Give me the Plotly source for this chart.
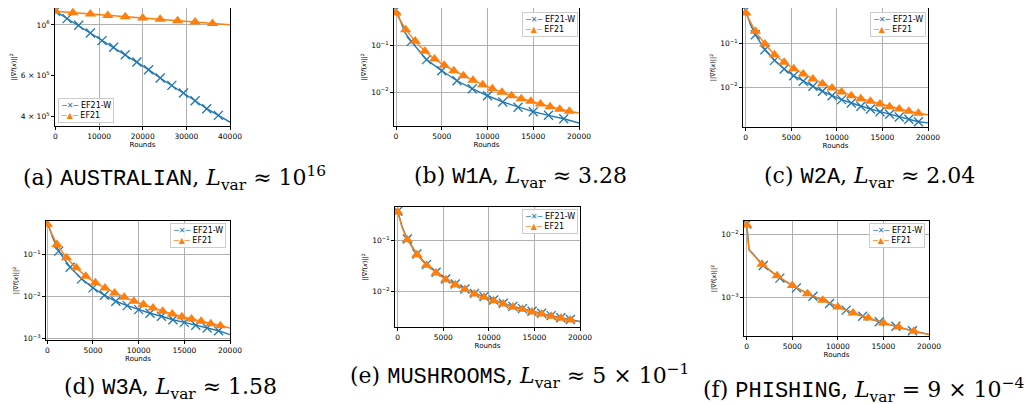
import plotly.graph_objects as go

BLUE = "#1f77b4"
ORANGE = "#ff7f0e"
W, H = 1034, 404

# ---------------- data ----------------
# (a) AUSTRALIAN
a_w_x = [0, 2667, 5333, 8000, 10667, 13333, 16000, 18667, 21333, 24000, 26667, 29333, 32000, 34667, 37333]
a_w_y = [1.148e6, 1.066e6, 9.97e5, 9.22e5, 8.54e5, 7.99e5, 7.41e5, 6.89e5, 6.38e5, 5.87e5, 5.45e5, 5.05e5, 4.67e5, 4.31e5, 4.03e5]
a_w_xl = [40000]
a_w_yl = [3.77e5]
a_e_x = [0, 4000, 8000, 12000, 16000, 20000, 24000, 28000, 32000, 36000]
a_e_y = [1.147e6, 1.131e6, 1.116e6, 1.101e6, 1.087e6, 1.072e6, 1.058e6, 1.044e6, 1.030e6, 1.016e6]
a_e_xl = [40000]
a_e_yl = [1.002e6]

# (b) W1A
b_w_x = [0, 1667, 3333, 5000, 6667, 8333, 10000, 11667, 13333, 15000, 16667, 18333]
b_w_y = [0.60, 0.124, 0.050, 0.0288, 0.0175, 0.0118, 0.0083, 0.0061, 0.0047, 0.00376, 0.00314, 0.00265]
b_w_xl = [500, 1000, 20000]
b_w_yl = [0.32, 0.19, 0.00214]
b_e_x = [0, 1053, 2105, 3158, 4211, 5263, 6316, 7368, 8421, 9474, 10526, 11579, 12632, 13684, 14737, 15789, 16842, 17895, 18947]
b_e_y = [0.51, 0.222, 0.124, 0.0757, 0.0516, 0.0377, 0.0288, 0.0225, 0.0179, 0.0144, 0.0118, 0.00986, 0.0083, 0.00717, 0.0063, 0.0055, 0.00482, 0.00423, 0.00385]
b_e_xl = [500, 20000]
b_e_yl = [0.34, 0.00352]

# (c) W2A
c_w_x = [0, 1053, 2105, 3158, 4211, 5263, 6316, 7368, 8421, 9474, 10526, 11579, 12632, 13684, 14737, 15789, 16842, 17895, 18947]
c_w_y = [0.60, 0.161, 0.0726, 0.0413, 0.0261, 0.0182, 0.01355, 0.01038, 0.00796, 0.0063, 0.0051, 0.00427, 0.00358, 0.0031, 0.00269, 0.00234, 0.00203, 0.0018, 0.00158]
c_w_xl = [500, 20000]
c_w_yl = [0.28, 0.00148]
c_e_x = [0, 1053, 2105, 3158, 4211, 5263, 6316, 7368, 8421, 9474, 10526, 11579, 12632, 13684, 14737, 15789, 16842, 17895, 18947]
c_e_y = [0.51, 0.193, 0.098, 0.0557, 0.0372, 0.0265, 0.020, 0.0153, 0.0119, 0.0095, 0.00767, 0.0063, 0.00537, 0.00468, 0.00405, 0.00351, 0.0031, 0.00275, 0.00247]
c_e_xl = [500, 20000]
c_e_yl = [0.31, 0.00229]

# (d) W3A
d_w_x = [0, 1250, 2500, 3750, 5000, 6250, 7500, 8750, 10000, 11250, 12500, 13750, 15000, 16250, 17500, 18750]
d_w_y = [0.60, 0.12, 0.050, 0.0264, 0.0161, 0.0108, 0.00776, 0.0061, 0.0049, 0.00402, 0.00341, 0.00283, 0.00245, 0.00209, 0.0018, 0.00155]
d_w_xl = [600, 20000]
d_w_yl = [0.25, 0.00125]
d_e_x = [0, 1053, 2105, 3158, 4211, 5263, 6316, 7368, 8421, 9474, 10526, 11579, 12632, 13684, 14737, 15789, 16842, 17895, 18947]
d_e_y = [0.52, 0.173, 0.0834, 0.0482, 0.0306, 0.0212, 0.0161, 0.0122, 0.0097, 0.00776, 0.00646, 0.00539, 0.00449, 0.00387, 0.00334, 0.00294, 0.0026, 0.00228, 0.00204]
d_e_xl = [500, 20000]
d_e_yl = [0.30, 0.0018]

# (e) MUSHROOMS
e_w_x = [0, 1053, 2105, 3158, 4211, 5263, 6316, 7368, 8421, 9474, 10526, 11579, 12632, 13684, 14737, 15789, 16842, 17895, 18947]
e_w_y = [0.37, 0.106, 0.054, 0.0333, 0.0236, 0.0174, 0.0139, 0.0111, 0.00912, 0.00785, 0.00674, 0.00581, 0.00507, 0.00457, 0.00405, 0.0037, 0.00334, 0.00304, 0.00281]
e_w_xl = [500, 20000]
e_w_yl = [0.18, 0.00256]
e_e_x = [0, 1053, 2105, 3158, 4211, 5263, 6316, 7368, 8421, 9474, 10526, 11579, 12632, 13684, 14737, 15789, 16842, 17895, 18947]
e_e_y = [0.359, 0.103, 0.0523, 0.0323, 0.0229, 0.0169, 0.0135, 0.0108, 0.00886, 0.00762, 0.00654, 0.00564, 0.00492, 0.00444, 0.00393, 0.00359, 0.00324, 0.00295, 0.00273]
e_e_xl = [500, 20000]
e_e_yl = [0.175, 0.00251]

# (f) PHISHING
f_w_x = [0, 1818, 3636, 5455, 7273, 9091, 10909, 12727, 14545, 16364, 18182]
f_w_y = [0.0145, 0.00318, 0.0020, 0.00140, 0.00103, 0.00079, 0.00062, 0.000495, 0.000405, 0.000342, 0.000290]
f_w_xl = [250, 800, 20000]
f_w_yl = [0.0057, 0.0047, 0.000254]
f_e_x = [0, 1667, 3333, 5000, 6667, 8333, 10000, 11667, 13333, 15000, 16667, 18333]
f_e_y = [0.0141, 0.00334, 0.00218, 0.00153, 0.00113, 0.000886, 0.000693, 0.000557, 0.000464, 0.000387, 0.000334, 0.000285]
f_e_xl = [250, 800, 20000]
f_e_yl = [0.0056, 0.0046, 0.000252]

series_names = ["EF21-W", "EF21"]
MONO = "<span style=\"font-family:'Liberation Mono'\">%s</span>"
captions = [
    "(a) " + MONO % "AUSTRALIAN" + ", <i>L</i><sub>var</sub> ≈ 10<sup>16</sup>",
    "(b) " + MONO % "W1A" + ", <i>L</i><sub>var</sub> ≈ 3.28",
    "(c) " + MONO % "W2A" + ", <i>L</i><sub>var</sub> ≈ 2.04",
    "(d) " + MONO % "W3A" + ", <i>L</i><sub>var</sub> ≈ 1.58",
    "(e) " + MONO % "MUSHROOMS" + ", <i>L</i><sub>var</sub> ≈ 5 × 10<sup>−1</sup>",
    "(f) " + MONO % "PHISHING" + ", <i>L</i><sub>var</sub> = 9 × 10<sup>−4</sup>",
]

# ---------------- layout geometry (pixels) ----------------
panels = [
    dict(x0=47, x1=222, y0=0, y1=118, xr=[-100, 40000], yr=[5.559, 6.074],
         xt=[0, 10000, 20000, 30000, 40000],
         yt=[4e5, 6e5, 1e6], ytt=["4 × 10<sup>5</sup>", "6 × 10<sup>5</sup>", "10<sup>6</sup>"], ygrid=[1e6],
         data=(a_w_x, a_w_y, a_w_xl, a_w_yl, a_e_x, a_e_y, a_e_xl, a_e_yl),
         leg=(50, 115, "left", "bottom"), cap=(13, 170)),
    dict(x0=386, x1=571, y0=0, y1=118, xr=[-220, 20000], yr=[-2.734, -0.186],
         xt=[0, 5000, 10000, 15000, 20000],
         yt=[1e-2, 1e-1], ytt=["10<sup>−2</sup>", "10<sup>−1</sup>"], ygrid=None,
         data=(b_w_x, b_w_y, b_w_xl, b_w_yl, b_e_x, b_e_y, b_e_xl, b_e_yl),
         leg=(570, 4, "right", "top"), cap=(404, 170)),
    dict(x0=735, x1=920, y0=0, y1=119, xr=[-300, 20000], yr=[-2.924, -0.175],
         xt=[0, 5000, 10000, 15000, 20000],
         yt=[1e-2, 1e-1], ytt=["10<sup>−2</sup>", "10<sup>−1</sup>"], ygrid=None,
         data=(c_w_x, c_w_y, c_w_xl, c_w_yl, c_e_x, c_e_y, c_e_xl, c_e_yl),
         leg=(918, 4, "right", "top"), cap=(754, 170)),
    dict(x0=38, x1=222, y0=213, y1=332, xr=[-140, 20000], yr=[-3.03, -0.205],
         xt=[0, 5000, 10000, 15000, 20000],
         yt=[1e-3, 1e-2, 1e-1], ytt=["10<sup>−3</sup>", "10<sup>−2</sup>", "10<sup>−1</sup>"], ygrid=None,
         data=(d_w_x, d_w_y, d_w_xl, d_w_yl, d_e_x, d_e_y, d_e_xl, d_e_yl),
         leg=(218, 215, "right", "top"), cap=(54, 380)),
    dict(x0=387, x1=572, y0=199, y1=319, xr=[-300, 20000], yr=[-2.70, -0.347],
         xt=[0, 5000, 10000, 15000, 20000],
         yt=[1e-2, 1e-1], ytt=["10<sup>−2</sup>", "10<sup>−1</sup>"], ygrid=None,
         data=(e_w_x, e_w_y, e_w_xl, e_w_yl, e_e_x, e_e_y, e_e_xl, e_e_yl),
         leg=(570, 201, "right", "top"), cap=(340, 368)),
    dict(x0=736, x1=921, y0=213, y1=328, xr=[-300, 20000], yr=[-3.62, -1.789],
         xt=[0, 5000, 10000, 15000, 20000],
         yt=[1e-3, 1e-2], ytt=["10<sup>−3</sup>", "10<sup>−2</sup>"], ygrid=None,
         data=(f_w_x, f_w_y, f_w_xl, f_w_yl, f_e_x, f_e_y, f_e_xl, f_e_yl),
         leg=(917, 215, "right", "top"), cap=(693, 382)),
]

TICKFONT = dict(family="DejaVu Sans", size=7.5, color="black")
fig = go.Figure()
layout = dict(width=W, height=H, margin=dict(l=0, r=0, t=0, b=0),
              paper_bgcolor="white", plot_bgcolor="white", annotations=[], showlegend=False)

styles = [
    dict(color=BLUE, marker=dict(symbol="x-thin", size=9, color=BLUE, line=dict(color=BLUE, width=1.3))),
    dict(color=ORANGE, marker=dict(symbol="triangle-up", size=10, color=ORANGE, line=dict(width=0))),
]

legend_text = ("<span style='color:%s'>─✕─</span> %s<br><span style='color:%s'>─▲─</span> %s"
               % (BLUE, series_names[0], ORANGE, series_names[1]))

for i, p in enumerate(panels, start=1):
    xa = "x" if i == 1 else f"x{i}"
    ya = "y" if i == 1 else f"y{i}"
    xw, yw, xwl, ywl, xe, ye, xel, yel = p["data"]
    for (xm, ym, xl, yl), st, name in zip([(xw, yw, xwl, ywl), (xe, ye, xel, yel)], styles, series_names):
        pts = sorted(zip(list(xm) + list(xl), list(ym) + list(yl)))
        fig.add_trace(go.Scatter(x=[q[0] for q in pts], y=[q[1] for q in pts], mode="lines", name=name,
                                 line=dict(color=st["color"], width=1.4), xaxis=xa, yaxis=ya,
                                 hoverinfo="skip"))
        fig.add_trace(go.Scatter(x=xm, y=ym, mode="markers", marker=st["marker"], xaxis=xa, yaxis=ya,
                                 name=name, hoverinfo="skip"))
    axcommon = dict(showline=True, mirror=True, linecolor="black", linewidth=1,
                    ticks="outside", ticklen=3, tickcolor="black", tickwidth=0.8,
                    tickfont=TICKFONT, gridcolor="#b0b0b0", gridwidth=0.8, zeroline=False,
                    automargin=False)
    xkey = "xaxis" if i == 1 else f"xaxis{i}"
    ykey = "yaxis" if i == 1 else f"yaxis{i}"
    layout[xkey] = dict(axcommon, domain=[p["x0"] / W, p["x1"] / W], anchor=ya, range=p["xr"],
                        tickmode="array", tickvals=p["xt"], ticktext=[str(v) for v in p["xt"]],
                        showgrid=True,
                        title=dict(text="Rounds", font=dict(family="DejaVu Sans", size=7, color="black"), standoff=1))
    ydict = dict(axcommon, domain=[1 - p["y1"] / H, 1 - p["y0"] / H], anchor=xa, type="log",
                 range=p["yr"], tickmode="array", tickvals=p["yt"], ticktext=p["ytt"],
                 title=dict(text="||∇<i>f</i>(<i>x</i>)||<sup>2</sup>",
                            font=dict(family="DejaVu Sans", size=6.5, color="black"), standoff=3))
    if p["ygrid"] is not None:
        ydict["showgrid"] = False
        ydict["minor"] = dict(tickmode="array", tickvals=p["ygrid"], showgrid=True,
                              gridcolor="#b0b0b0", gridwidth=0.8, ticks="")
    else:
        ydict["showgrid"] = True
    layout[ykey] = ydict
    lx, ly, lxa, lya = p["leg"]
    layout["annotations"].append(dict(text=legend_text, x=lx / W, y=1 - ly / H, xref="paper", yref="paper",
                                      xanchor=lxa, yanchor=lya, align="left", showarrow=False,
                                      bgcolor="rgba(255,255,255,0.85)", bordercolor="#cccccc",
                                      borderwidth=1, borderpad=2,
                                      font=dict(family="DejaVu Sans", size=8, color="black")))
    cx, cy = p["cap"]
    layout["annotations"].append(dict(text=captions[i - 1], x=cx / W, y=1 - cy / H, xref="paper", yref="paper",
                                      xanchor="left", yanchor="middle", showarrow=False,
                                      font=dict(family="DejaVu Serif", size=22, color="black")))

fig.update_layout(**layout)
fig.write_html("out.html")
